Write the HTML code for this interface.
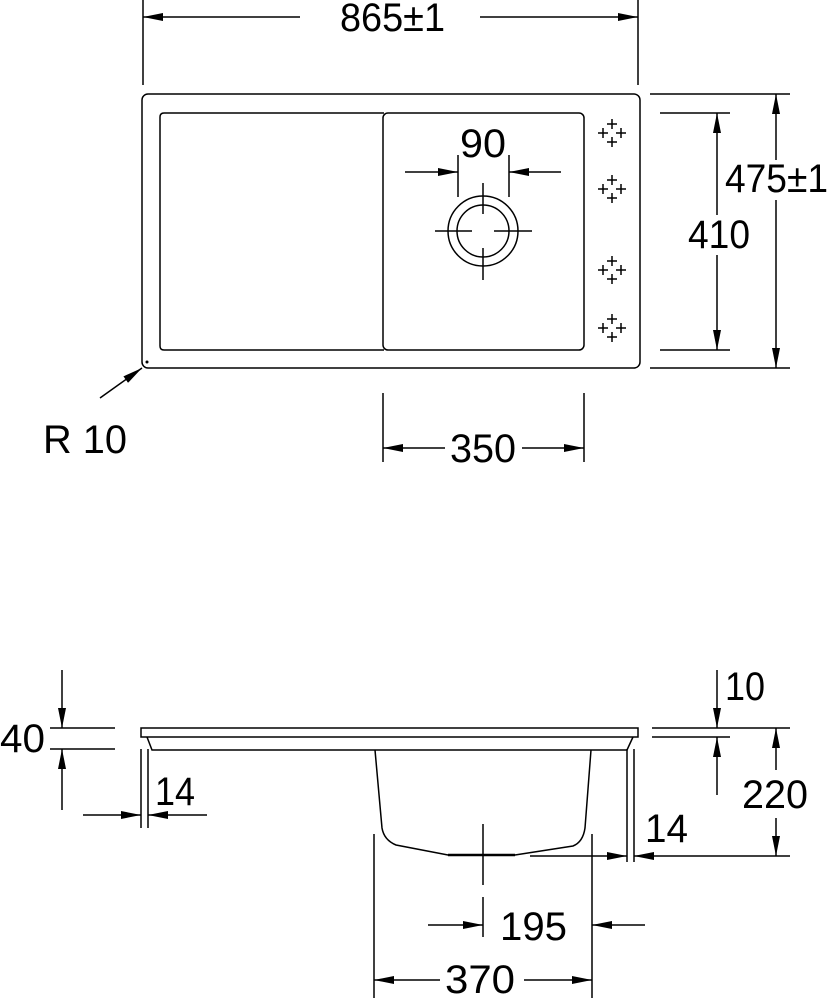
<!DOCTYPE html><html><head><style>html,body{margin:0;padding:0;background:#fff}svg{display:block}text{font-family:"Liberation Sans",sans-serif;font-size:40px;fill:#000}</style></head><body>
<svg width="828" height="998" viewBox="0 0 828 998" xmlns="http://www.w3.org/2000/svg">
<defs><marker id="a" viewBox="0 0 20 8" refX="20" refY="4" markerWidth="20" markerHeight="8" markerUnits="userSpaceOnUse" orient="auto"><path d="M0,0L20,4L0,8z" fill="#000"/></marker>
<g id="c" stroke="#000" stroke-width="1.5" fill="none"><path d="M0,-14V-4M-5,-9H5M0,4V14M-5,9H5M-14,0H-4M-9,-5V5M4,0H14M9,-5V5"/></g></defs>
<g stroke="#000" stroke-width="1.5" fill="none">
<rect x="142" y="94" width="498" height="274" rx="6"/>
<path d="M384,113H164Q160,113 160,117V346Q160,350 164,350H384"/>
<rect x="383" y="113" width="201" height="237" rx="5"/>
<circle cx="483" cy="231" r="35"/><circle cx="483" cy="231" r="26"/>
<path d="M483,183V214M483,248V280M435,231H472M494,231H532"/>
<path d="M458,155V197M509,155V197"/>
<path d="M405,172H458" marker-end="url(#a)"/><path d="M561,172H509" marker-end="url(#a)"/>
<path d="M143,0V85M638,0V85"/>
<path d="M300,17H143" marker-end="url(#a)"/><path d="M480,17H638" marker-end="url(#a)"/>
<path d="M650,94H790M650,368H790M660,113H730M660,350H730"/>
<path d="M776,160V94" marker-end="url(#a)"/><path d="M776,200V368" marker-end="url(#a)"/>
<path d="M717,215V113" marker-end="url(#a)"/><path d="M717,255V350" marker-end="url(#a)"/>
<path d="M383,393V462M584,393V462"/>
<path d="M445,448H383" marker-end="url(#a)"/><path d="M522,448H584" marker-end="url(#a)"/>
<path d="M100,398L142,368" marker-end="url(#a)"/>
<rect x="141" y="728" width="497" height="9"/>
<path d="M147,737L152,750H627L633,737"/>
<path d="M375,750L382,828Q384,840 396,845L448,855H515L573,846Q583,842 585,828L591,750"/>
<path d="M448,855H515" stroke-width="2.5"/>
<path d="M483,824V885M483,897V937"/>
<path d="M374,834V998M592,834V998"/>
<path d="M428,925H483" marker-end="url(#a)"/><path d="M645,925H592" marker-end="url(#a)"/>
<path d="M440,980H374" marker-end="url(#a)"/><path d="M524,980H592" marker-end="url(#a)"/>
<path d="M50,728H115M50,749H115"/>
<path d="M62,670V728" marker-end="url(#a)"/><path d="M62,810V749" marker-end="url(#a)"/>
<path d="M141,749V828M148,749V828"/>
<path d="M83,815H141" marker-end="url(#a)"/><path d="M207,815H148" marker-end="url(#a)"/>
<path d="M652,728H790M652,737H730"/>
<path d="M717,670V728" marker-end="url(#a)"/><path d="M717,795V737" marker-end="url(#a)"/>
<path d="M776,770V728" marker-end="url(#a)"/><path d="M776,818V856" marker-end="url(#a)"/>
<path d="M530,856H590M680,856H790"/>
<path d="M627,749V862M634,749V862"/>
<path d="M590,856H627" marker-end="url(#a)"/><path d="M680,856H634" marker-end="url(#a)"/>
</g>
<use href="#c" x="612" y="133"/><use href="#c" x="612" y="189"/><use href="#c" x="612" y="270"/><use href="#c" x="612" y="328"/>
<circle cx="147" cy="362" r="1.5" fill="#000"/>
<text x="340" y="31" textLength="105" lengthAdjust="spacingAndGlyphs">865±1</text>
<text x="460" y="157" textLength="46" lengthAdjust="spacingAndGlyphs">90</text>
<text x="725" y="192" textLength="103" lengthAdjust="spacingAndGlyphs">475±1</text>
<rect x="684" y="218" width="70" height="34" fill="#fff"/>
<text x="688" y="248" textLength="62" lengthAdjust="spacingAndGlyphs">410</text>
<text x="450" y="462" textLength="66" lengthAdjust="spacingAndGlyphs">350</text>
<text x="43" y="453" textLength="84" lengthAdjust="spacingAndGlyphs">R 10</text>
<text x="0" y="752" textLength="45" lengthAdjust="spacingAndGlyphs">40</text>
<text x="155" y="805" textLength="40" lengthAdjust="spacingAndGlyphs">14</text>
<text x="725" y="700" textLength="40" lengthAdjust="spacingAndGlyphs">10</text>
<text x="742" y="808" textLength="66" lengthAdjust="spacingAndGlyphs">220</text>
<text x="645" y="842" textLength="43" lengthAdjust="spacingAndGlyphs">14</text>
<text x="500" y="940" textLength="67" lengthAdjust="spacingAndGlyphs">195</text>
<rect x="441" y="962" width="80" height="36" fill="#fff"/>
<text x="445" y="993" textLength="70" lengthAdjust="spacingAndGlyphs">370</text>
</svg></body></html>
